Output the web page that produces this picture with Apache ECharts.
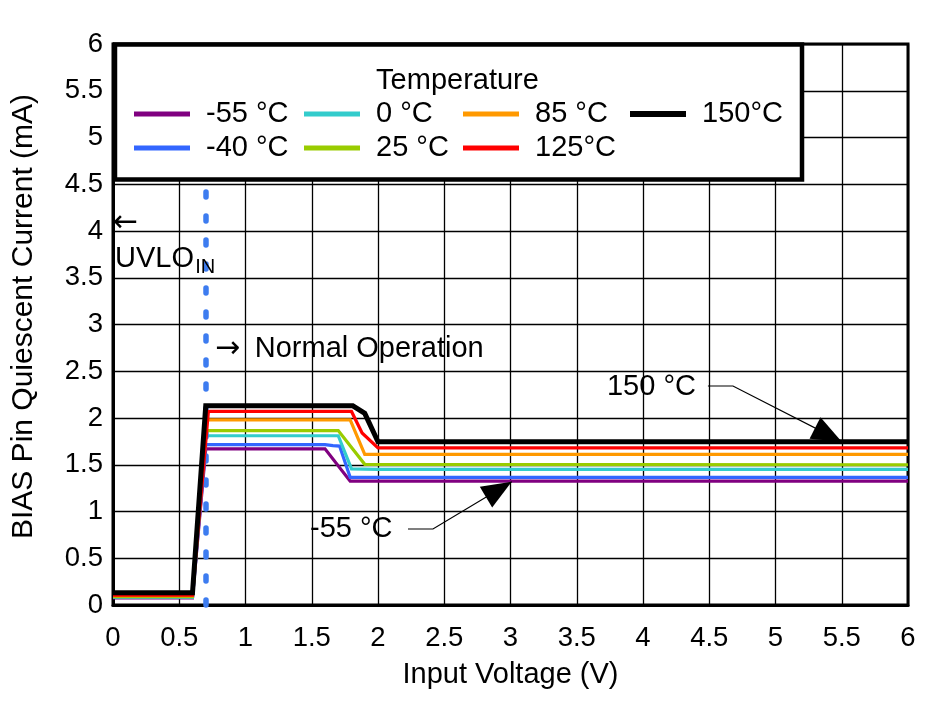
<!DOCTYPE html>
<html><head><meta charset="utf-8">
<script src="https://cdn.jsdelivr.net/npm/echarts@6/dist/echarts.min.js"></script>
<style>html,body{margin:0;padding:0;background:#fff}#c{width:940px;height:701px}</style>
</head><body><div id="c"></div>
<script>
// ---- data ----
const seriesNames = ['-55 °C', '-40 °C', '0 °C', '25 °C', '85 °C', '125°C', '150°C'];
const seriesColors = ['#800080', '#3366ff', '#33cccc', '#99cc00', '#ff9900', '#ff0000', '#000000'];
const v_m55 = [[0, 0.075], [0.6, 0.075], [0.7, 1.67], [1.6, 1.67], [1.79, 1.325], [6, 1.325]];
const v_m40 = [[0, 0.08], [0.6, 0.08], [0.7, 1.715], [1.6, 1.715], [1.66, 1.705], [1.71, 1.70], [1.79, 1.366], [6, 1.366]];
const v_0 = [[0, 0.085], [0.6, 0.085], [0.7, 1.81], [1.7, 1.81], [1.8, 1.455], [2.0, 1.45], [6, 1.45]];
const v_25 = [[0, 0.09], [0.6, 0.09], [0.7, 1.865], [1.7, 1.865], [1.9, 1.505], [6, 1.50]];
const v_85 = [[0, 0.10], [0.6, 0.10], [0.7, 1.98], [1.79, 1.98], [1.9, 1.61], [6, 1.61]];
const v_125 = [[0, 0.105], [0.6, 0.105], [0.72, 2.07], [1.8, 2.07], [1.88, 1.84], [2.0, 1.68], [6, 1.68]];
const v_150 = [[0, 0.13], [0.6, 0.13], [0.7, 2.13], [1.81, 2.13], [1.9, 2.05], [2.0, 1.745], [6, 1.745]];
const seriesData = [v_m55, v_m40, v_0, v_25, v_85, v_125, v_150];
const uvloVoltage = 0.7;
const xAxisTitle = 'Input Voltage (V)';
const yAxisTitle = 'BIAS Pin Quiescent Current (mA)';
const legendTitle = 'Temperature';
const legendColumns = [['-55 °C', '-40 °C'], ['0 °C', '25 °C'], ['85 °C', '125°C'], ['150°C']];

// ---- chart ----
const FONT = "'Liberation Sans', Arial, sans-serif";
const chart = echarts.init(document.getElementById('c'), null, {renderer: 'canvas'});

const series = seriesNames.map((n, i) => ({
  name: n, type: 'line', data: seriesData[i], showSymbol: false, symbol: 'none',
  color: seriesColors[i],
  lineStyle: {width: i === 6 ? 5 : 3.2, color: seriesColors[i], join: 'miter'},
  z: 2 + i, silent: true
}));
series[0].markLine = {
  silent: true, symbol: 'none', label: {show: false}, animation: false,
  lineStyle: {color: '#3d7cf0', width: 5.5, type: [5, 19], cap: 'round'},
  data: [{xAxis: uvloVoltage}]
};

const legendLefts = [134, 304, 463, 630];
const legends = legendColumns.map((col, k) => ({
  data: col, orient: 'vertical', left: legendLefts[k], top: 99, padding: 0,
  itemGap: 4, itemWidth: 56, itemHeight: k === 3 ? 6 : 5, icon: 'rect',
  selectedMode: false, z: 20,
  textStyle: {fontFamily: FONT, fontSize: 29, color: '#000', lineHeight: 30, padding: [0, 0, 0, 11]}
}));

chart.setOption({
  animation: false,
  backgroundColor: '#fff',
  grid: {left: 113, right: 32, top: 44, bottom: 96, show: true, borderColor: '#000', borderWidth: 3},
  legend: legends,
  xAxis: {
    type: 'value', min: 0, max: 6, interval: 0.5,
    name: xAxisTitle, nameLocation: 'middle', nameGap: 55,
    nameTextStyle: {fontFamily: FONT, fontSize: 29, color: '#000'},
    axisLine: {show: true, lineStyle: {color: '#000', width: 3}},
    axisTick: {show: false},
    axisLabel: {fontFamily: FONT, fontSize: 27.5, color: '#000', margin: 19},
    splitLine: {show: true, lineStyle: {color: '#000', width: 1.3}}
  },
  yAxis: {
    type: 'value', min: 0, max: 6, interval: 0.5,
    name: yAxisTitle, nameLocation: 'middle', nameGap: 74, nameRotate: 90,
    nameTextStyle: {fontFamily: FONT, fontSize: 30, color: '#000', padding: [0, 0, 0, 16]},
    axisLine: {show: true, lineStyle: {color: '#000', width: 3}},
    axisTick: {show: false},
    axisLabel: {fontFamily: FONT, fontSize: 27.5, color: '#000', margin: 10},
    splitLine: {show: true, lineStyle: {color: '#000', width: 1.3}}
  },
  series: series
});

// ---- annotations (placed in data coordinates) ----
function P(x, y) { return chart.convertToPixel({gridIndex: 0}, [x, y]); }
function arrowHead(from, tip, L, w) {
  const dx = tip[0] - from[0], dy = tip[1] - from[1];
  const len = Math.hypot(dx, dy), ux = dx / len, uy = dy / len;
  const mx = tip[0] - ux * L, my = tip[1] - uy * L;
  return [tip, [mx - uy * w, my + ux * w], [mx + uy * w, my - ux * w]];
}
function callout(textXY, text, start, bend, tip) {
  const t = P(textXY[0], textXY[1]);
  const s = P(start[0], start[1]), b = P(bend[0], bend[1]), p = P(tip[0], tip[1]);
  return [
    {type: 'text', x: t[0], y: t[1], z: 30, style: {text: text, font: '29px ' + FONT, fill: '#000', textVerticalAlign: 'middle'}},
    {type: 'polyline', z: 30, shape: {points: [s, b, p]}, style: {stroke: '#000', lineWidth: 1.2, fill: null}},
    {type: 'polygon', z: 30, shape: {points: arrowHead(b, p, 30, 12)}, style: {fill: '#000'}}
  ];
}
const g = [];
// legend box
const lb1 = P(0.015, 5.995), lb2 = P(5.2, 4.55);
g.push({type: 'rect', z: 10, shape: {x: lb1[0], y: lb1[1], width: lb2[0] - lb1[0], height: lb2[1] - lb1[1]},
  style: {fill: '#fff', stroke: '#000', lineWidth: 4.5}});
const tt = P(2.6, 5.6);
g.push({type: 'text', z: 21, x: tt[0], y: tt[1], style: {text: legendTitle, font: '29px ' + FONT, fill: '#000', textAlign: 'center', textVerticalAlign: 'middle'}});
// UVLO
const ARROWFONT = "'DejaVu Sans', sans-serif";
const a1 = P(0.0, 4.08);
g.push({type: 'text', z: 30, x: a1[0], y: a1[1], style: {text: '←', font: '30px ' + ARROWFONT, fill: '#000', textVerticalAlign: 'middle'}});
const u1 = P(0.015, 3.7);
g.push({type: 'text', z: 30, x: u1[0], y: u1[1], style: {text: 'UVLO', font: '29px ' + FONT, fill: '#000', textVerticalAlign: 'middle'}});
const u2 = P(0.62, 3.61);
g.push({type: 'text', z: 30, x: u2[0], y: u2[1], style: {text: 'IN', font: '20px ' + FONT, fill: '#000', textVerticalAlign: 'middle'}});
// Normal operation
const n0 = P(0.77, 2.74);
g.push({type: 'text', z: 30, x: n0[0], y: n0[1], style: {text: '→', font: '30px ' + ARROWFONT, fill: '#000', textVerticalAlign: 'middle'}});
const n1 = P(1.07, 2.74);
g.push({type: 'text', z: 30, x: n1[0], y: n1[1], style: {text: 'Normal Operation', font: '29px ' + FONT, fill: '#000', textVerticalAlign: 'middle'}});
// callouts
g.push(...callout([3.728, 2.33], '150 °C', [4.49, 2.342], [4.679, 2.342], [5.50, 1.747]));
g.push(...callout([1.487, 0.81], '-55 °C', [2.226, 0.813], [2.415, 0.813], [3.009, 1.319]));
chart.setOption({graphic: {elements: g}});
</script>
</body></html>
